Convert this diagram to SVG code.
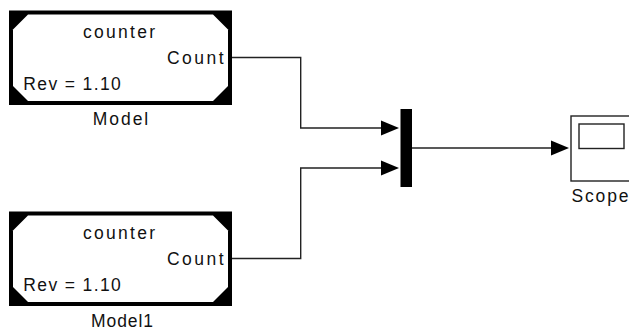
<svg xmlns="http://www.w3.org/2000/svg" width="629" height="329" viewBox="0 0 629 329">
<style>
.t{font-family:"Liberation Sans",Arial,sans-serif;font-size:17.5px;fill:#111;}
.blk{fill:#000;}
.inner{fill:#fff;}
.wire{fill:none;stroke:#222;stroke-width:1.4;}
.arr{fill:#000;}
.box{fill:#fff;stroke:#222;stroke-width:1.4;}
</style>
<defs>
<g id="refblock">
<rect class="blk" x="9" y="10.5" width="223" height="94.5"/>
<polygon class="inner" points="28,14.5 213,14.5 228,29.5 228,86 213,101 28,101 13,86 13,29.5"/>
<text class="t" x="119" y="38" text-anchor="middle" textLength="72" lengthAdjust="spacing">counter</text>
<text class="t" x="223.5" y="63.5" text-anchor="end" textLength="56.5" lengthAdjust="spacing">Count</text>
<text class="t" x="23.3" y="90" textLength="97.5" lengthAdjust="spacing">Rev = 1.10</text>
</g>
</defs>
<g id="connectors">
<polyline class="wire" points="232,57.5 300.7,57.5 300.7,128 382,128"/>
<polygon class="arr" points="381,120.5 399,128 381,135.5"/>
<polyline class="wire" points="232,258.5 300.7,258.5 300.7,168 382,168"/>
<polygon class="arr" points="381,160.5 399,168 381,175.5"/>
<polyline class="wire" points="412,148 552,148"/>
<polygon class="arr" points="551,140.5 569,148 551,155.5"/>
</g>
<g id="model">
<use href="#refblock"/>
<text class="t" x="120.5" y="125" text-anchor="middle" textLength="55.5" lengthAdjust="spacing">Model</text>
</g>
<g id="model1">
<use href="#refblock" transform="translate(0,201)"/>
<text class="t" x="122" y="326.5" text-anchor="middle" textLength="62" lengthAdjust="spacing">Model1</text>
</g>
<g id="mux">
<rect class="blk" x="400.5" y="109" width="11.5" height="78"/>
</g>
<g id="scope">
<rect class="box" x="571" y="116" width="62" height="65"/>
<rect class="box" x="579" y="124" width="45" height="24.5"/>
<text class="t" x="571.5" y="201.5" textLength="57" lengthAdjust="spacing">Scope</text>
</g>
</svg>
